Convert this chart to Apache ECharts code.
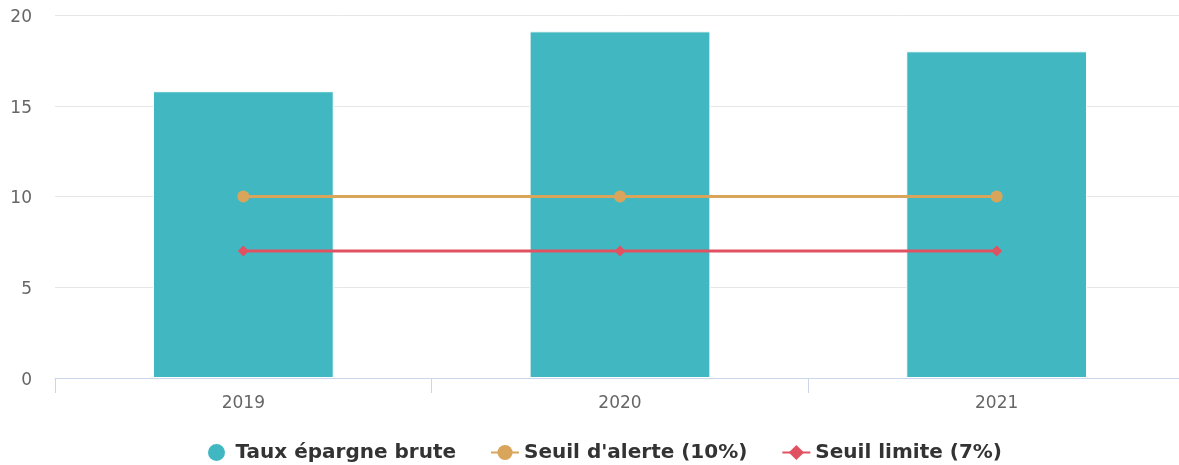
<!DOCTYPE html>
<html>
<head>
<meta charset="utf-8">
<script src="https://cdn.jsdelivr.net/npm/echarts@6/dist/echarts.min.js"></script>
<style>
  html, body { margin: 0; padding: 0; background: #fff; }
  #chart { width: 1179px; height: 465px; overflow: hidden; }
</style>
</head>
<body>
<div id="chart"></div>
<script>
// Années et taux d'épargne brute (%)
const years = ['2019', '2020', '2021'];
const tauxEpargne = [15.8, 19.1, 18.0];
const seuilAlerte = [10, 10, 10];
const seuilLimite = [7, 7, 7];

const chart = echarts.init(document.getElementById('chart'));
const font = "'DejaVu Sans', sans-serif";

chart.setOption({
  animation: false,
  textStyle: { fontFamily: font },
  grid: {
    left: 55, width: 1130, top: 15, height: 363,
    containLabel: false,
    outerBoundsMode: 'none'
  },
  legend: {
    top: 437,
    left: 201,
    itemGap: 34,
    itemWidth: 28,
    itemHeight: 19,
    textStyle: { fontSize: 20, fontWeight: 'bold', color: '#333', fontFamily: font },
    data: [
      { name: 'Taux épargne brute', icon: 'circle' },
      { name: "Seuil d'alerte (10%)" },
      { name: 'Seuil limite (7%)' }
    ]
  },
  xAxis: {
    type: 'category',
    data: years,
    axisLine: { lineStyle: { color: '#ccd6eb' } },
    axisTick: { show: true, length: 15, lineStyle: { color: '#ccd6eb' } },
    axisLabel: { color: '#666', fontSize: 17, margin: 17, fontFamily: font }
  },
  yAxis: {
    type: 'value',
    min: 0,
    max: 20,
    interval: 5,
    axisLine: { show: false },
    axisTick: { show: false },
    axisLabel: {
      color: '#666', fontSize: 17, margin: 23, fontFamily: font,
      formatter: '{v|{value}}',
      rich: { v: { color: '#666', fontSize: 17, fontFamily: font, padding: [5, 0, 0, 0] } }
    },
    splitLine: { lineStyle: { color: '#e6e6e6' } }
  },
  series: [
    {
      name: 'Taux épargne brute',
      type: 'bar',
      data: tauxEpargne,
      barWidth: '48%',
      itemStyle: { color: '#41b8c1', borderColor: '#ffffff', borderWidth: 1 },
      z: 1
    },
    {
      name: "Seuil d'alerte (10%)",
      type: 'line',
      data: seuilAlerte,
      symbol: 'circle',
      symbolSize: 12,
      lineStyle: { color: '#d9a55a', width: 3 },
      itemStyle: { color: '#d9a55a' },
      z: 3
    },
    {
      name: 'Seuil limite (7%)',
      type: 'line',
      data: seuilLimite,
      symbol: 'diamond',
      symbolSize: 11,
      lineStyle: { color: '#e05262', width: 3 },
      itemStyle: { color: '#e05262' },
      z: 3
    }
  ]
});
</script>
</body>
</html>
